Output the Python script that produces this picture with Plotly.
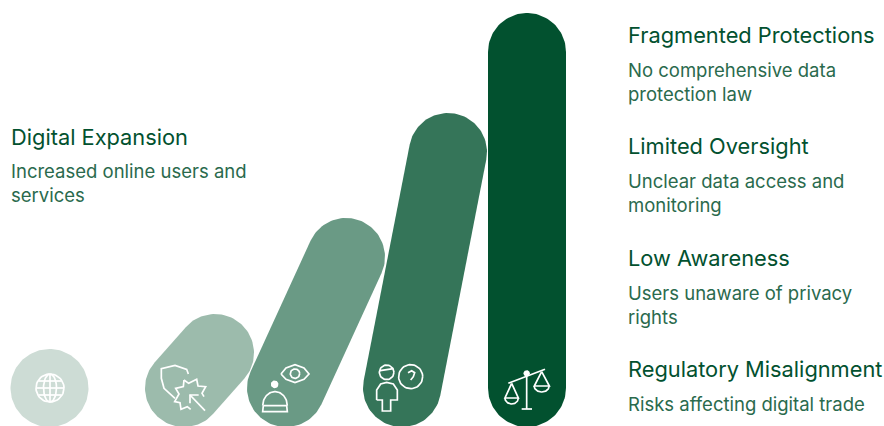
import numpy as np
import plotly.graph_objects as go

FONT = "Inter"
TITLE_COLOR = "#02512F"
DESC_COLOR = "#2A6A4D"

stage_names = ["Digital Expansion", "Fragmented Protections", "Limited Oversight", "Low Awareness", "Regulatory Misalignment"]
stage_descs = ["Increased online users and<br>services", "No comprehensive data<br>protection law",
               "Unclear data access and<br>monitoring", "Users unaware of privacy<br>rights", "Risks affecting digital trade"]
title_x = [11, 628, 628, 628, 628]
title_y = [137, 35, 146, 258, 369]
desc_y = [171, 70, 181, 293, 404]

# capsule ends in chart units
base_x = [49.5, 184, 286, 402, 527]
base_y = [388, 388, 388, 388, 388]
top_x = [49.5, 215, 346, 448, 527]
top_y = [388, 353, 257, 152, 52]
radius = 39
capsule_colors = ["#CDDCD5", "#9CBBAC", "#6A9A85", "#357559", "#02512F"]


def capsule(x0, y0, x1, y1, r):
    ang = np.arctan2(y1 - y0, x1 - x0)
    t1 = np.linspace(ang + np.pi / 2, ang + 3 * np.pi / 2, 60)
    t2 = np.linspace(ang - np.pi / 2, ang + np.pi / 2, 60)
    xs = np.r_[x0 + r * np.cos(t1), x1 + r * np.cos(t2)]
    ys = np.r_[y0 + r * np.sin(t1), y1 + r * np.sin(t2)]
    return np.r_[xs, xs[0]], np.r_[ys, ys[0]]


def ring(cx, cy, rx, ry=None, a0=0, a1=360):
    ry = rx if ry is None else ry
    t = np.radians(np.linspace(a0, a1, 50))
    return list(cx + rx * np.cos(t)), list(cy + ry * np.sin(t))


def z(points, ox=0, oy=340):
    """3x zoom-read points into chart units"""
    return [p[0] / 3 + ox for p in points], [p[1] / 3 + oy for p in points]


fig = go.Figure()
for x0, y0, x1, y1, c in zip(base_x, base_y, top_x, top_y, capsule_colors):
    xs, ys = capsule(x0, y0, x1, y1, radius)
    fig.add_trace(go.Scatter(x=xs, y=ys, mode="lines", fill="toself", fillcolor=c,
                             line=dict(color=c, width=0), hoverinfo="skip", showlegend=False))

icons = []
# globe
icons += [ring(50, 388, 14), ring(50, 388, 6.5, 14)]
icons += [([36, 64], [388, 388]), ([50, 50], [374, 402]), ([38.5, 61.5], [381, 381]), ([38.5, 61.5], [395, 395])]
# shield + burst + arrow
icons.append(z([(565, 102), (560, 88), (525, 76), (484, 86), (484, 115), (492, 145), (525, 175)]))
icons.append(z([(552, 120), (566, 130), (590, 118), (594, 138), (617, 140), (606, 160), (612, 170)]))
icons.append(z([(552, 120), (550, 140), (527, 145), (537, 162), (524, 185), (540, 188), (543, 208), (562, 200), (572, 208)]))
icons.append(z([(615, 212), (570, 165)]))
icons.append(z([(570, 190), (570, 165), (596, 165)]))
# eye
icons.append(z([(93, 102), (108, 84), (135, 74), (162, 84), (177, 102), (162, 118), (135, 128), (108, 118), (93, 102)], 250))
icons.append(ring(135 / 3 + 250, 101 / 3 + 340, 4.7))
# bell person
icons.append(ring(74 / 3 + 250, 133 / 3 + 340, 3))
icons.append(z([(40, 197), (38, 215), (112, 215), (110, 197), (40, 197)], 250))
icons.append(ring(75 / 3 + 250, 197 / 3 + 340, 12.3, 14, 180, 360))
# person + question
icons.append(ring(410 / 3 + 250, 97 / 3 + 340, 7.3))
icons.append(z([(390, 92), (410, 88), (430, 86)], 250))
icons.append(z([(380, 180), (380, 150), (392, 132), (410, 127), (430, 132), (442, 150), (442, 180), (422, 180), (422, 213), (397, 213), (397, 180), (380, 180)], 250))
icons.append(ring(482 / 3 + 250, 110 / 3 + 340, 12))
icons.append(z([(474, 98), (485, 92), (494, 98), (490, 110), (482, 120)], 250))
# scales
icons.append(z([(830, 100), (830, 207)], 250))
icons.append(z([(815, 207), (846, 207)], 250))
icons.append(z([(775, 130), (885, 88)], 250))
icons.append(z([(785, 130), (765, 174), (805, 174), (785, 130)], 250))
icons.append(ring(785 / 3 + 250, 174 / 3 + 340, 6.7, 6, 0, 180))
icons.append(z([(875, 95), (853, 138), (898, 138), (875, 95)], 250))
icons.append(ring(875 / 3 + 250, 138 / 3 + 340, 7.5, 6, 0, 180))

for xs, ys in icons:
    fig.add_trace(go.Scatter(x=xs, y=ys, mode="lines", line=dict(color="white", width=1.7),
                             hoverinfo="skip", showlegend=False))
# filled hubs
for cx, cy, r in [(74 / 3 + 250, 133 / 3 + 340, 3.4), (830 / 3 + 250, 100 / 3 + 340, 3.2)]:
    xs, ys = ring(cx, cy, r)
    fig.add_trace(go.Scatter(x=xs, y=ys, mode="lines", fill="toself", fillcolor="white",
                             line=dict(color="white", width=0), hoverinfo="skip", showlegend=False))

for name, d, x, ty, dy_ in zip(stage_names, stage_descs, title_x, title_y, desc_y):
    fig.add_annotation(x=x, y=ty, text=name, showarrow=False, xanchor="left", yanchor="middle", xshift=-2,
                       align="left", font=dict(family=FONT, size=21.8, color=TITLE_COLOR))
    nlines = d.count("<br>") + 1
    fig.add_annotation(x=x, y=dy_ + (nlines - 1) * 11.7, text=d, showarrow=False, xanchor="left", yanchor="middle", xshift=-2,
                       align="left", font=dict(family=FONT, size=18.5, color=DESC_COLOR))

fig.update_layout(width=884, height=426, margin=dict(l=0, r=0, t=0, b=0), paper_bgcolor="white", plot_bgcolor="white",
                  xaxis=dict(range=[0, 884], visible=False, fixedrange=True),
                  yaxis=dict(range=[426, 0], visible=False, fixedrange=True), showlegend=False)
fig.write_html("out.html", config={"displayModeBar": False}, post_script="document.body.style.margin='0';")
